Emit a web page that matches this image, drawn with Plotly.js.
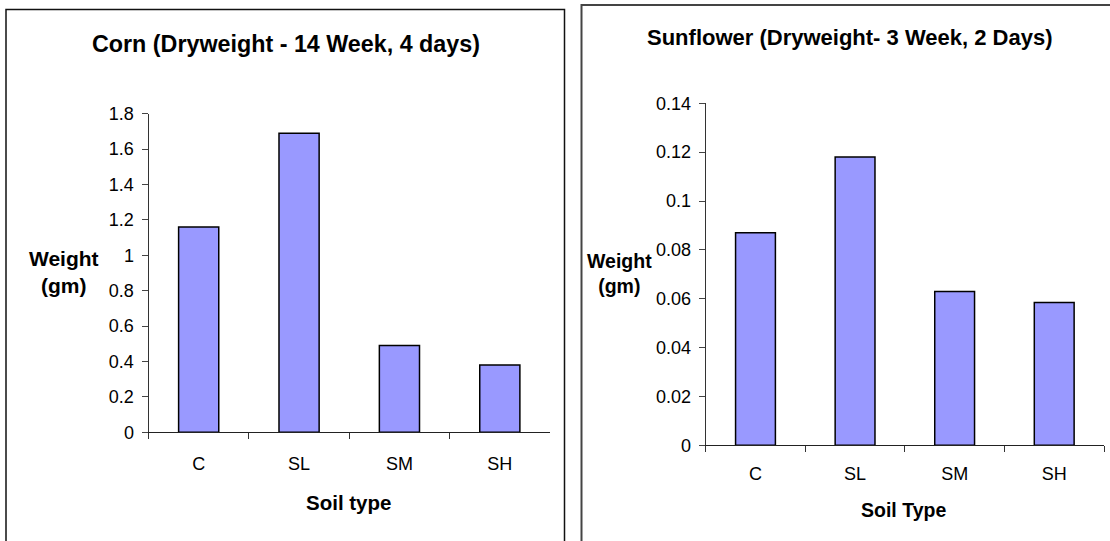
<!DOCTYPE html>
<html>
<head>
<meta charset="utf-8">
<script src="https://cdn.plot.ly/plotly-3.0.1.min.js"></script>
<style>
  html, body { margin: 0; padding: 0; background: #fff; }
  #chart { width: 1110px; height: 541px; }
</style>
</head>
<body>
<div id="chart"></div>
<script>
// Soil types shared by both panels
const soilTypes = ['C', 'SL', 'SM', 'SH'];

// Corn dry weight (gm) after 14 weeks, 4 days
const cornWeight = [1.16, 1.69, 0.49, 0.38];
// Sunflower dry weight (gm) after 3 weeks, 2 days
const sunflowerWeight = [0.087, 0.118, 0.063, 0.0585];

// Value axis ticks
const cornTicks = [0, 0.2, 0.4, 0.6, 0.8, 1, 1.2, 1.4, 1.6, 1.8];
const cornTickText = ['0', '0.2', '0.4', '0.6', '0.8', '1', '1.2', '1.4', '1.6', '1.8'];
const sunTicks = [0, 0.02, 0.04, 0.06, 0.08, 0.1, 0.12, 0.14];
const sunTickText = ['0', '0.02', '0.04', '0.06', '0.08', '0.1', '0.12', '0.14'];

// Text
const cornTitle = 'Corn (Dryweight - 14 Week, 4 days)';
const sunTitle = 'Sunflower (Dryweight- 3 Week, 2 Days)';
const weightLabel = 'Weight<br>(gm)';
const cornXLabel = 'Soil type';
const sunXLabel = 'Soil Type';

const W = 1110, H = 541;
const FONT = 'Arial, "Liberation Sans", sans-serif';
const BAR_FILL = '#9999FF';

// pixel -> paper helpers (margins are zero, so paper == page)
const px = v => v / W;
const py = v => 1 - v / H;

const barStyle = {
  type: 'bar',
  marker: { color: BAR_FILL, line: { color: '#000', width: 1.5 } },
  hoverinfo: 'x+y',
  showlegend: false
};

const traces = [
  Object.assign({}, barStyle, { x: soilTypes, y: cornWeight, xaxis: 'x', yaxis: 'y' }),
  Object.assign({}, barStyle, { x: soilTypes, y: sunflowerWeight, xaxis: 'x2', yaxis: 'y2' })
];

const catAxis = (domain, anchor, standoff) => ({
  domain: domain,
  anchor: anchor,
  type: 'category',
  range: [-0.5, 3.5],
  showline: true, linecolor: '#222', linewidth: 1,
  ticks: 'outside', tickson: 'boundaries', ticklen: 6, tickcolor: '#333', tickwidth: 1,
  ticklabelstandoff: standoff,
  tickfont: { family: FONT, size: 18, color: '#000' },
  showgrid: false, zeroline: false, fixedrange: true
});

const valAxis = (domain, anchor, range, vals, text) => ({
  domain: domain,
  anchor: anchor,
  range: range,
  tickmode: 'array', tickvals: vals, ticktext: text,
  showline: true, linecolor: '#333', linewidth: 1,
  ticks: 'outside', ticklen: 6, tickcolor: '#444', tickwidth: 1,
  ticklabelstandoff: 4,
  tickfont: { family: FONT, size: 18, color: '#000' },
  showgrid: false, zeroline: false, fixedrange: true
});

const ann = (text, x, y, size) => ({
  text: text, xref: 'paper', yref: 'paper', x: px(x), y: py(y),
  xanchor: 'center', yanchor: 'middle', showarrow: false,
  font: { family: FONT, size: size, color: '#000', weight: 'bold' }
});

const layout = {
  width: W, height: H,
  margin: { l: 0, r: 0, t: 0, b: 0 },
  paper_bgcolor: '#fff', plot_bgcolor: 'rgba(0,0,0,0)',
  bargap: 0.6,
  xaxis: catAxis([px(148.5), px(550)], 'y', 15),
  yaxis: valAxis([1 - 432.3 / H, 1 - 113.7 / H], 'x', [0, 1.8], cornTicks, cornTickText),
  xaxis2: catAxis([px(705.7), px(1104)], 'y2', 12),
  yaxis2: valAxis([1 - 445.3 / H, 1 - 103.3 / H], 'x2', [0, 0.14], sunTicks, sunTickText),
  shapes: [
    // chart-area frames
    { type: 'rect', xref: 'paper', yref: 'paper', x0: px(6), x1: px(564.5), y0: py(560), y1: py(9.5),
      line: { color: '#111', width: 1.5 }, fillcolor: 'rgba(0,0,0,0)' },
    { type: 'rect', xref: 'paper', yref: 'paper', x0: px(581.5), x1: px(1130), y0: py(560), y1: py(5),
      line: { color: '#444', width: 2 }, fillcolor: 'rgba(0,0,0,0)' }
  ],
  annotations: [
    ann(cornTitle, 285.5, 43.5, 23.3),
    ann(sunTitle, 849, 37.5, 22),
    ann(weightLabel, 64, 272, 21),
    ann(weightLabel, 619, 273, 19.5),
    ann(cornXLabel, 348, 502, 20.5),
    ann(sunXLabel, 903, 510, 19.5)
  ]
};

Plotly.newPlot('chart', traces, layout, { displayModeBar: false, staticPlot: true });
</script>
</body>
</html>
